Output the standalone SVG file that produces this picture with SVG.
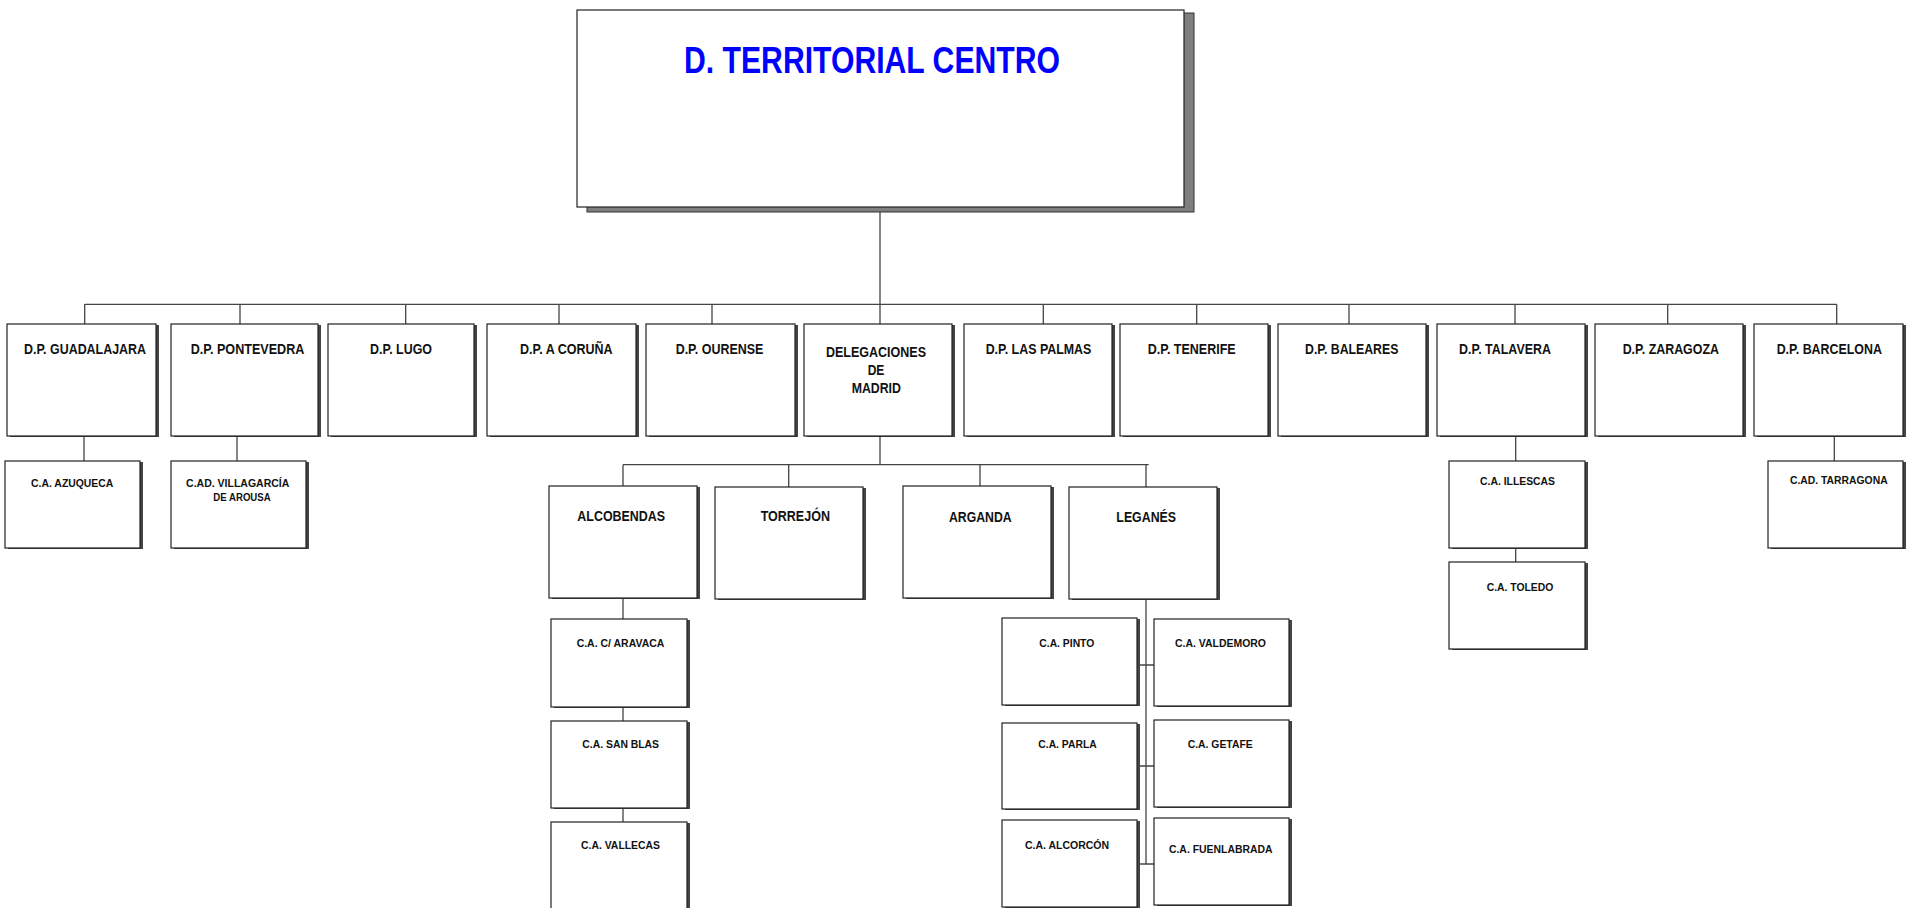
<svg xmlns="http://www.w3.org/2000/svg" width="1910" height="908" viewBox="0 0 1910 908">
<style>
.box{fill:#fff;stroke:#222;stroke-width:1.2}
.sh{fill:#444}
.ln{stroke:#444;stroke-width:1.3;fill:none}
.t1{font-family:"Liberation Sans",Arial,sans-serif;font-weight:bold;font-size:15.5px;fill:#111;text-anchor:middle}
.t2{font-family:"Liberation Sans",Arial,sans-serif;font-weight:bold;font-size:10px;fill:#111;text-anchor:middle}
.title{font-family:"Liberation Sans",Arial,sans-serif;font-weight:bold;font-size:37px;fill:#0000ff;text-anchor:middle}
</style>
<rect width="1910" height="908" fill="#fff"/>
<g id="connectors" class="ln">
<path d="M880 207V304.3M84.7 304.3H1836.7"/>
<path d="M84.7 304.3V324M240 304.3V324M405.7 304.3V324M559 304.3V324M712 304.3V324M880 304.3V324M1043.3 304.3V326M1196.7 304.3V326M1349 304.3V326M1515 304.3V324M1667.7 304.3V324M1836.7 304.3V324"/>
<path d="M84 436V461M237 436V463M1515.7 436V461M1515.7 548V562M1834.3 436V461"/>
<path d="M880 436V464.7M623 464.7H1148.7M623 464.7V486M788.7 464.7V487M980 464.7V486M1146 464.7V487"/>
<path d="M623 598V619M623 707V721M623 808V822"/>
<path d="M1146 599V864M1140 665H1154M1140 766H1154M1140 864H1154"/>
</g>
<g id="main">
<rect x="587" y="13" width="607" height="199" fill="#7f7f7f" stroke="#333" stroke-width="1"/>
<rect x="577" y="10" width="607" height="197" class="box"/>
<text x="872" y="73" class="title" textLength="376" lengthAdjust="spacingAndGlyphs">D. TERRITORIAL CENTRO</text>
</g>
<g id="dp-guadalajara"><rect x="10" y="325" width="149" height="112" class="sh"/><rect x="7" y="324" width="149" height="112" class="box"/><text x="85" y="354.3" class="t1" textLength="122" lengthAdjust="spacingAndGlyphs">D.P. GUADALAJARA</text></g>
<g id="dp-pontevedra"><rect x="174" y="325" width="147" height="112" class="sh"/><rect x="171" y="324" width="147" height="112" class="box"/><text x="247.5" y="354.3" class="t1" textLength="113.7" lengthAdjust="spacingAndGlyphs">D.P. PONTEVEDRA</text></g>
<g id="dp-lugo"><rect x="331" y="325" width="146" height="112" class="sh"/><rect x="328" y="324" width="146" height="112" class="box"/><text x="401" y="354.3" class="t1" textLength="62" lengthAdjust="spacingAndGlyphs">D.P. LUGO</text></g>
<g id="dp-acoruna"><rect x="490" y="325" width="149" height="112" class="sh"/><rect x="487" y="324" width="149" height="112" class="box"/><text x="566.3" y="354.3" class="t1" textLength="92.7" lengthAdjust="spacingAndGlyphs">D.P. A CORUÑA</text></g>
<g id="dp-ourense"><rect x="649" y="325" width="149" height="112" class="sh"/><rect x="646" y="324" width="149" height="112" class="box"/><text x="719.5" y="354.3" class="t1" textLength="87.7" lengthAdjust="spacingAndGlyphs">D.P. OURENSE</text></g>
<g id="delegaciones-madrid"><rect x="807" y="325" width="148" height="112" class="sh"/><rect x="804" y="324" width="148" height="112" class="box"/><text x="876" y="356.7" class="t1" textLength="100" lengthAdjust="spacingAndGlyphs">DELEGACIONES</text><text x="876" y="375" class="t1" textLength="16.7" lengthAdjust="spacingAndGlyphs">DE</text><text x="876.3" y="393.3" class="t1" textLength="49.3" lengthAdjust="spacingAndGlyphs">MADRID</text></g>
<g id="dp-laspalmas"><rect x="967" y="325" width="148" height="112" class="sh"/><rect x="964" y="324" width="148" height="112" class="box"/><text x="1038.5" y="354.3" class="t1" textLength="105.7" lengthAdjust="spacingAndGlyphs">D.P. LAS PALMAS</text></g>
<g id="dp-tenerife"><rect x="1123" y="325" width="148" height="112" class="sh"/><rect x="1120" y="324" width="148" height="112" class="box"/><text x="1191.7" y="354.3" class="t1" textLength="88" lengthAdjust="spacingAndGlyphs">D.P. TENERIFE</text></g>
<g id="dp-baleares"><rect x="1281" y="325" width="148" height="112" class="sh"/><rect x="1278" y="324" width="148" height="112" class="box"/><text x="1351.7" y="354.3" class="t1" textLength="93.3" lengthAdjust="spacingAndGlyphs">D.P. BALEARES</text></g>
<g id="dp-talavera"><rect x="1440" y="325" width="148" height="112" class="sh"/><rect x="1437" y="324" width="148" height="112" class="box"/><text x="1505" y="354.3" class="t1" textLength="92" lengthAdjust="spacingAndGlyphs">D.P. TALAVERA</text></g>
<g id="dp-zaragoza"><rect x="1598" y="325" width="148" height="112" class="sh"/><rect x="1595" y="324" width="148" height="112" class="box"/><text x="1670.8" y="354.3" class="t1" textLength="96.3" lengthAdjust="spacingAndGlyphs">D.P. ZARAGOZA</text></g>
<g id="dp-barcelona"><rect x="1757" y="325" width="149" height="112" class="sh"/><rect x="1754" y="324" width="149" height="112" class="box"/><text x="1829.3" y="354.3" class="t1" textLength="105.3" lengthAdjust="spacingAndGlyphs">D.P. BARCELONA</text></g>
<g id="alcobendas"><rect x="552" y="487" width="148" height="112" class="sh"/><rect x="549" y="486" width="148" height="112" class="box"/><text x="621.2" y="520.7" class="t1" textLength="87.7" lengthAdjust="spacingAndGlyphs">ALCOBENDAS</text></g>
<g id="torrejon"><rect x="718" y="488" width="148" height="112" class="sh"/><rect x="715" y="487" width="148" height="112" class="box"/><text x="795.3" y="520.7" class="t1" textLength="69.3" lengthAdjust="spacingAndGlyphs">TORREJÓN</text></g>
<g id="arganda"><rect x="906" y="487" width="148" height="112" class="sh"/><rect x="903" y="486" width="148" height="112" class="box"/><text x="980.3" y="521.7" class="t1" textLength="62.7" lengthAdjust="spacingAndGlyphs">ARGANDA</text></g>
<g id="leganes"><rect x="1072" y="488" width="148" height="112" class="sh"/><rect x="1069" y="487" width="148" height="112" class="box"/><text x="1146.2" y="521.7" class="t1" textLength="59.7" lengthAdjust="spacingAndGlyphs">LEGANÉS</text></g>
<g id="ca-azuqueca"><rect x="8" y="462" width="135" height="87" class="sh"/><rect x="5" y="461" width="135" height="87" class="box"/><text x="72.2" y="487.3" class="t2" textLength="82.3" lengthAdjust="spacingAndGlyphs">C.A. AZUQUECA</text></g>
<g id="cad-villagarcia"><rect x="174" y="462" width="135" height="87" class="sh"/><rect x="171" y="461" width="135" height="87" class="box"/><text x="237.7" y="487.3" class="t2" textLength="103.3" lengthAdjust="spacingAndGlyphs">C.AD. VILLAGARCÍA</text><text x="242" y="500.7" class="t2" textLength="57.3" lengthAdjust="spacingAndGlyphs">DE AROUSA</text></g>
<g id="ca-illescas"><rect x="1452" y="462" width="136" height="87" class="sh"/><rect x="1449" y="461" width="136" height="87" class="box"/><text x="1517.5" y="485.3" class="t2" textLength="75" lengthAdjust="spacingAndGlyphs">C.A. ILLESCAS</text></g>
<g id="ca-toledo"><rect x="1452" y="563" width="136" height="87" class="sh"/><rect x="1449" y="562" width="136" height="87" class="box"/><text x="1520" y="590.7" class="t2" textLength="66.7" lengthAdjust="spacingAndGlyphs">C.A. TOLEDO</text></g>
<g id="cad-tarragona"><rect x="1771" y="462" width="135" height="87" class="sh"/><rect x="1768" y="461" width="135" height="87" class="box"/><text x="1838.8" y="484" class="t2" textLength="97.7" lengthAdjust="spacingAndGlyphs">C.AD. TARRAGONA</text></g>
<g id="ca-aravaca"><rect x="554" y="620" width="136" height="88" class="sh"/><rect x="551" y="619" width="136" height="88" class="box"/><text x="620.5" y="646.7" class="t2" textLength="87.7" lengthAdjust="spacingAndGlyphs">C.A. C/ ARAVACA</text></g>
<g id="ca-sanblas"><rect x="554" y="722" width="136" height="87" class="sh"/><rect x="551" y="721" width="136" height="87" class="box"/><text x="620.7" y="748" class="t2" textLength="76.7" lengthAdjust="spacingAndGlyphs">C.A. SAN BLAS</text></g>
<g id="ca-vallecas"><rect x="554" y="823" width="136" height="100" class="sh"/><rect x="551" y="822" width="136" height="100" class="box"/><text x="620.5" y="849.3" class="t2" textLength="79" lengthAdjust="spacingAndGlyphs">C.A. VALLECAS</text></g>
<g id="ca-pinto"><rect x="1005" y="619" width="135" height="87" class="sh"/><rect x="1002" y="618" width="135" height="87" class="box"/><text x="1066.8" y="646.7" class="t2" textLength="55" lengthAdjust="spacingAndGlyphs">C.A. PINTO</text></g>
<g id="ca-valdemoro"><rect x="1157" y="620" width="135" height="87" class="sh"/><rect x="1154" y="619" width="135" height="87" class="box"/><text x="1220.5" y="646.7" class="t2" textLength="91" lengthAdjust="spacingAndGlyphs">C.A. VALDEMORO</text></g>
<g id="ca-parla"><rect x="1005" y="724" width="135" height="86" class="sh"/><rect x="1002" y="723" width="135" height="86" class="box"/><text x="1067.5" y="748.3" class="t2" textLength="58.3" lengthAdjust="spacingAndGlyphs">C.A. PARLA</text></g>
<g id="ca-getafe"><rect x="1157" y="721" width="135" height="87" class="sh"/><rect x="1154" y="720" width="135" height="87" class="box"/><text x="1220.2" y="748.3" class="t2" textLength="65" lengthAdjust="spacingAndGlyphs">C.A. GETAFE</text></g>
<g id="ca-alcorcon"><rect x="1005" y="821" width="135" height="87" class="sh"/><rect x="1002" y="820" width="135" height="87" class="box"/><text x="1067" y="849.3" class="t2" textLength="84" lengthAdjust="spacingAndGlyphs">C.A. ALCORCÓN</text></g>
<g id="ca-fuenlabrada"><rect x="1157" y="819" width="135" height="87" class="sh"/><rect x="1154" y="818" width="135" height="87" class="box"/><text x="1220.8" y="852.7" class="t2" textLength="103.7" lengthAdjust="spacingAndGlyphs">C.A. FUENLABRADA</text></g>
</svg>
